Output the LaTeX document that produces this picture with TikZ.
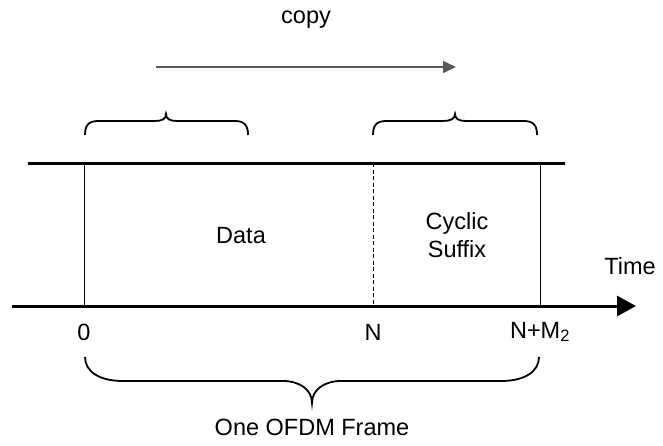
\documentclass[tikz,border=0pt]{standalone}
\usepackage{fontspec}
\setmainfont{Liberation Sans}
\usetikzlibrary{arrows.meta}
\begin{document}
\begin{tikzpicture}[x=1pt,y=-1pt,
  lbl/.style={font=\fontsize{23.5}{28}\selectfont, inner sep=0pt, align=center},
  thickline/.style={line width=3pt},
  vline/.style={line width=0.9pt},
  bracepath/.style={line width=1.8pt}]
\useasboundingbox (0,0) rectangle (663,445);
% coordinates
\coordinate (tl) at (28,163);
\coordinate (tr) at (565,163);
\coordinate (al) at (12,306);
\coordinate (ar) at (636,306);
\coordinate (v0t) at (84,163); \coordinate (v0b) at (84,306);
\coordinate (vNt) at (373,163); \coordinate (vNb) at (373,306);
\coordinate (vMt) at (540,163); \coordinate (vMb) at (540,306);
\coordinate (cs) at (156,67);
\coordinate (ce) at (456,67);
% lines
\draw[thickline] (tl) -- (tr);
\draw[thickline,-{Triangle[length=19pt,width=20pt]}] (al) -- (ar);
\draw[vline] (v0t) -- (v0b);
\draw[vline,dash pattern=on 4pt off 2.5pt] (vNt) -- (vNb);
\draw[vline] (vMt) -- (vMb);
\draw[line width=1.3pt,draw=black!65,-{Triangle[length=13pt,width=12pt]}] (cs) -- (ce);
% braces
\draw[bracepath] (85,135) .. controls (85,126) and (88,121) .. (98,121) -- (155,121)
  .. controls (162,121) and (166,119) .. (166,114)
  .. controls (166,119) and (170,121) .. (177,121) -- (235,121)
  .. controls (245,121) and (248,126) .. (248,135);
\draw[bracepath] (373,135) .. controls (373,126) and (376,121) .. (386,121) -- (443,121)
  .. controls (450,121) and (455,119) .. (455,114)
  .. controls (455,119) and (459,121) .. (466,121) -- (524,121)
  .. controls (534,121) and (537,126) .. (537,135);
\draw[bracepath] (85,357) .. controls (85,372) and (100,381) .. (123,381) -- (283,381)
  .. controls (300,381) and (312,390) .. (312,403)
  .. controls (312,390) and (324,381) .. (341,381) -- (501,381)
  .. controls (524,381) and (539,372) .. (539,357);
% labels
\node[lbl] (copy) at (306,20) {copy};
\node[lbl] (data) at (241,236) {Data};
\node[lbl] (cyc) at (457,235) {Cyclic\\Suffix};
\node[lbl] (time) at (630,266) {Time};
\node[lbl] (l0) at (84,332) {0};
\node[lbl] (lN) at (373,332) {N};
\node[lbl] (lM) at (540,332) {N+M\textsubscript{2}};
\node[lbl] (frame) at (312,427) {One OFDM Frame};
\end{tikzpicture}
\end{document}
